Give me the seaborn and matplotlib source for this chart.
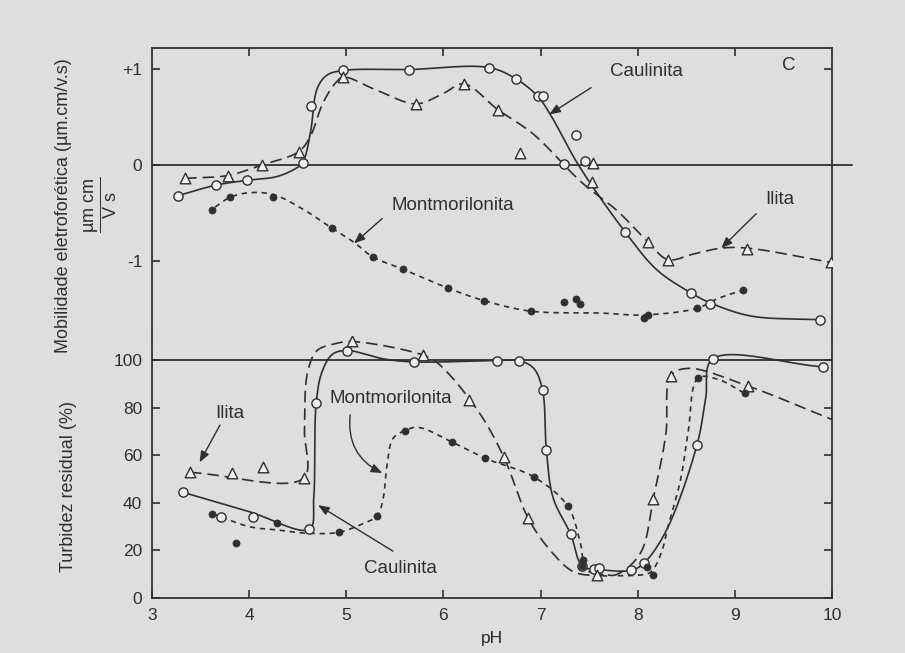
import numpy as np
import matplotlib
matplotlib.use("Agg")
import matplotlib.pyplot as plt
import seaborn as sns

# ---------------- data ----------------
# top panel: electrophoretic mobility (um.cm/V.s) vs pH  -- measured points
caul_mob_ph = [3.27, 3.66, 3.98, 4.55, 4.64, 4.97, 5.65, 6.47, 6.75, 6.97, 7.03, 7.24, 7.36, 7.46, 7.87, 8.55, 8.74, 9.88]
caul_mob = [-0.32, -0.21, -0.16, 0.02, 0.62, 0.99, 0.99, 1.02, 0.90, 0.72, 0.72, 0.01, 0.31, 0.04, -0.70, -1.34, -1.46, -1.62]
ilit_mob_ph = [3.34, 3.78, 4.13, 4.51, 4.97, 5.72, 6.21, 6.56, 6.79, 7.54, 7.53, 8.11, 8.31, 9.13, 9.99]
ilit_mob = [-0.14, -0.11, 0.0, 0.14, 0.92, 0.64, 0.85, 0.58, 0.13, 0.02, -0.18, -0.81, -0.99, -0.88, -1.02]
mont_mob_ph = [3.62, 3.80, 4.25, 4.85, 5.27, 5.58, 6.05, 6.42, 6.90, 7.24, 7.36, 7.41, 8.06, 8.11, 8.61, 9.08]
mont_mob = [-0.47, -0.34, -0.33, -0.66, -0.96, -1.09, -1.29, -1.42, -1.53, -1.43, -1.40, -1.46, -1.60, -1.57, -1.50, -1.31]

# top panel: hand-drawn curve traces (nodes)
caul_mob_curve_ph = [3.27, 3.66, 3.98, 4.29, 4.49, 4.55, 4.63, 4.70, 4.80, 4.97, 5.65, 6.47, 6.75, 6.97, 7.10, 7.39, 7.87, 8.20, 8.55, 8.74, 9.16, 9.88]
caul_mob_curve = [-0.32, -0.21, -0.16, -0.12, -0.03, 0.02, 0.33, 0.80, 0.94, 0.99, 1.00, 1.02, 0.90, 0.72, 0.53, 0.0, -0.70, -1.10, -1.34, -1.44, -1.58, -1.62]
ilit_mob_curve_ph = [3.34, 3.78, 4.13, 4.51, 4.63, 4.76, 4.89, 4.97, 5.32, 5.72, 6.00, 6.21, 6.56, 6.93, 7.41, 7.79, 8.11, 8.31, 8.58, 8.86, 9.13, 9.99]
ilit_mob_curve = [-0.14, -0.11, 0.0, 0.14, 0.30, 0.65, 0.86, 0.92, 0.78, 0.64, 0.75, 0.85, 0.58, 0.32, -0.17, -0.48, -0.81, -0.99, -0.93, -0.87, -0.87, -1.02]
mont_mob_curve_ph = [3.65, 3.80, 4.00, 4.25, 4.55, 4.85, 5.08, 5.27, 5.58, 6.05, 6.42, 6.90, 7.62, 8.06, 8.61, 8.82, 9.08]
mont_mob_curve = [-0.44, -0.34, -0.29, -0.31, -0.46, -0.66, -0.81, -0.96, -1.09, -1.29, -1.42, -1.53, -1.55, -1.57, -1.50, -1.40, -1.31]

# bottom panel: residual turbidity (%) vs pH -- measured points
caul_tur_ph = [3.32, 3.71, 4.04, 4.62, 4.69, 5.01, 5.70, 6.55, 6.78, 7.02, 7.06, 7.31, 7.43, 7.55, 7.60, 7.93, 8.06, 8.61, 8.77, 9.91]
caul_tur = [44.4, 34.2, 34.2, 28.9, 81.8, 104.0, 99.2, 99.8, 99.7, 87.4, 62.2, 26.8, 13.4, 12.1, 12.5, 11.6, 14.5, 64.3, 100.4, 97.1]
ilit_tur_ph = [3.39, 3.82, 4.14, 4.56, 5.06, 5.79, 6.26, 6.62, 6.87, 7.58, 8.16, 8.34, 9.14]
ilit_tur = [52.8, 52.7, 55.1, 50.4, 107.8, 102.1, 83.1, 59.4, 33.7, 9.5, 41.7, 93.4, 88.9]
mont_tur_ph = [3.62, 3.86, 4.29, 4.92, 5.32, 5.60, 6.09, 6.43, 6.93, 7.28, 7.44, 7.43, 8.10, 8.16, 8.62, 9.10]
mont_tur = [35.5, 23.3, 31.6, 27.6, 34.6, 70.3, 65.5, 58.7, 50.9, 38.6, 15.9, 13.4, 13.2, 9.8, 92.4, 86.0]

# bottom panel: hand-drawn curve traces
caul_tur_curve_ph = [3.32, 4.00, 4.62, 4.665, 4.69, 4.75, 4.86, 5.01, 5.38, 5.70, 6.55, 6.78, 6.93, 7.02, 7.06, 7.13, 7.31, 7.43, 7.60, 7.93, 8.06, 8.29, 8.61, 8.70, 8.77, 9.91]
caul_tur_curve = [44.4, 36.3, 28.9, 42.0, 81.8, 95.0, 102.5, 104.0, 100.5, 99.2, 99.8, 99.7, 96.5, 87.4, 62.0, 42.0, 26.8, 13.4, 12.0, 11.6, 14.5, 28.0, 64.3, 84.0, 100.4, 97.1]
ilit_tur_curve_ph = [3.39, 4.56, 4.57, 4.60, 4.70, 4.90, 5.06, 5.79, 5.95, 6.35, 6.62, 6.87, 7.10, 7.34, 7.58, 7.79, 8.03, 8.16, 8.29, 8.34, 8.52, 9.14, 10.0]
ilit_tur_curve = [52.8, 50.4, 70.0, 94.5, 104.0, 107.0, 107.8, 102.1, 98.4, 79.0, 59.4, 33.7, 20.0, 11.0, 9.5, 10.0, 19.0, 41.7, 69.0, 93.4, 96.5, 89.0, 75.0]
mont_tur_curve_ph = [3.62, 4.00, 4.29, 4.60, 4.92, 5.18, 5.32, 5.38, 5.42, 5.48, 5.60, 5.74, 6.09, 6.43, 6.93, 7.28, 7.41, 7.47, 7.62, 7.96, 8.13, 8.24, 8.31, 8.44, 8.52, 8.62, 8.82, 9.10]
mont_tur_curve = [35.5, 30.0, 28.6, 27.2, 27.6, 31.4, 34.6, 42.0, 56.0, 67.0, 70.3, 71.7, 65.5, 58.7, 50.9, 38.6, 23.0, 12.0, 10.0, 9.5, 10.8, 18.7, 29.7, 49.5, 70.0, 92.4, 92.0, 86.0]

x_ticks = [3, 4, 5, 6, 7, 8, 9, 10]
mob_ticks = [-1, 0, 1]
mob_tick_labels = ["-1", "0", "+1"]
tur_ticks = [0, 20, 40, 60, 80, 100]

# ---------------- style ----------------
INK = "#2f2f2f"
BG = "#dedede"
OPEN = "#eeeeee"
FONT = ["Liberation Sans", "DejaVu Sans"]

sns.set_theme(style="white")
plt.rcParams["font.family"] = FONT
plt.rcParams["mathtext.fontset"] = "custom"
plt.rcParams["mathtext.rm"] = "Liberation Sans"
plt.rcParams["mathtext.it"] = "Liberation Sans"
plt.rcParams["text.color"] = INK
plt.rcParams["axes.edgecolor"] = INK
plt.rcParams["xtick.color"] = INK
plt.rcParams["ytick.color"] = INK


def smooth(xs, ys, sx, sy, n=24):
    """Centripetal Catmull-Rom through the traced nodes (display-like scaling)."""
    P = np.column_stack([np.asarray(xs, float) * sx, np.asarray(ys, float) * sy])
    P = np.vstack([2 * P[0] - P[1], P, 2 * P[-1] - P[-2]])
    out = []
    for i in range(1, len(P) - 2):
        p0, p1, p2, p3 = P[i - 1], P[i], P[i + 1], P[i + 2]
        t0 = 0.0
        t1 = t0 + max(np.linalg.norm(p1 - p0), 1e-6) ** 0.5
        t2 = t1 + max(np.linalg.norm(p2 - p1), 1e-6) ** 0.5
        t3 = t2 + max(np.linalg.norm(p3 - p2), 1e-6) ** 0.5
        t = np.linspace(t1, t2, n, endpoint=False)[:, None]
        a1 = (t1 - t) / (t1 - t0) * p0 + (t - t0) / (t1 - t0) * p1
        a2 = (t2 - t) / (t2 - t1) * p1 + (t - t1) / (t2 - t1) * p2
        a3 = (t3 - t) / (t3 - t2) * p2 + (t - t2) / (t3 - t2) * p3
        b1 = (t2 - t) / (t2 - t0) * a1 + (t - t0) / (t2 - t0) * a2
        b2 = (t3 - t) / (t3 - t1) * a2 + (t - t1) / (t3 - t1) * a3
        c = (t2 - t) / (t2 - t1) * b1 + (t - t1) / (t2 - t1) * b2
        out.append(c)
    out.append(P[-2][None, :])
    C = np.vstack(out)
    return C[:, 0] / sx, C[:, 1] / sy


def draw_curve(ax, xs, ys, sy, ls):
    cx, cy = smooth(xs, ys, 97.0, sy)
    sns.lineplot(x=cx, y=cy, sort=False, estimator=None, ax=ax, color=INK,
                 lw=1.2, linestyle=ls, zorder=2)


def draw_points(ax, xs, ys, kind):
    if kind == "circle":
        sns.scatterplot(x=xs, y=ys, marker="o", s=44, color=OPEN, edgecolor=INK,
                        linewidth=1.0, ax=ax, zorder=4)
    elif kind == "triangle":
        sns.scatterplot(x=xs, y=ys, marker="^", s=58, color=OPEN, edgecolor=INK,
                        linewidth=1.0, ax=ax, zorder=4)
    else:
        sns.scatterplot(x=xs, y=ys, marker="o", s=26, color=INK, edgecolor=INK,
                        linewidth=0.5, ax=ax, zorder=4)


LONG = (0, (7, 3.5))
SHORT = (0, (3.2, 2.8))

W, H = 905, 653
fig = plt.figure(figsize=(W / 100, H / 100), dpi=100, facecolor=BG)
left, right = 152, 832
y_top, y_mid, y_bot = 48, 336, 598
ax_t = fig.add_axes([left / W, 1 - y_mid / H, (right - left) / W, (y_mid - y_top) / H])
ax_b = fig.add_axes([left / W, 1 - y_bot / H, (right - left) / W, (y_bot - y_mid) / H])
for ax in (ax_t, ax_b):
    ax.set_facecolor("none")
    ax.set_xlim(3, 10)
    for s in ax.spines.values():
        s.set_linewidth(1.3)
        s.set_color(INK)

ax_t.set_ylim(-1.79, 1.225)
ax_b.set_ylim(0, 110.1)
ax_t.spines["bottom"].set_visible(False)
ax_b.spines["top"].set_visible(False)

# reference lines
ax_t.axhline(0, xmin=0, xmax=1.03, color=INK, lw=1.3, clip_on=False, zorder=1)
ax_b.axhline(100, color=INK, lw=1.3, zorder=1)

# curves
draw_curve(ax_t, caul_mob_curve_ph, caul_mob_curve, 95.5, "-")
draw_curve(ax_t, ilit_mob_curve_ph, ilit_mob_curve, 95.5, LONG)
draw_curve(ax_t, mont_mob_curve_ph, mont_mob_curve, 95.5, SHORT)
draw_curve(ax_b, caul_tur_curve_ph, caul_tur_curve, 2.38, "-")
draw_curve(ax_b, ilit_tur_curve_ph, ilit_tur_curve, 2.38, LONG)
draw_curve(ax_b, mont_tur_curve_ph, mont_tur_curve, 2.38, SHORT)

# points
draw_points(ax_t, caul_mob_ph, caul_mob, "circle")
draw_points(ax_t, ilit_mob_ph, ilit_mob, "triangle")
draw_points(ax_t, mont_mob_ph, mont_mob, "dot")
draw_points(ax_b, caul_tur_ph, caul_tur, "circle")
draw_points(ax_b, ilit_tur_ph, ilit_tur, "triangle")
draw_points(ax_b, mont_tur_ph, mont_tur, "dot")

# ticks
ax_t.set_xticks(x_ticks[1:-1])
ax_t.tick_params(axis="x", which="both", bottom=False, top=True, labelbottom=False,
                 direction="in", length=6, width=1.2)
ax_t.set_yticks(mob_ticks)
ax_t.set_yticklabels(mob_tick_labels)
ax_t.tick_params(axis="y", left=True, right=False, direction="in", length=6, width=1.2,
                 labelsize=12.5, pad=7)
ax_b.set_xticks(x_ticks)
ax_b.tick_params(axis="x", bottom=True, top=False, direction="in", length=6, width=1.2,
                 labelsize=12.5, pad=7)
ax_b.set_yticks(tur_ticks)
ax_b.tick_params(axis="y", left=True, right=True, direction="in", length=6, width=1.2,
                 labelsize=12.5, pad=7)
for ax in (ax_t, ax_b):
    ax.set_xlabel("")
    ax.set_ylabel("")
sec = ax_t.secondary_yaxis("right")
sec.set_yticks([1], labels=[""])
sec.tick_params(direction="in", length=6, width=1.2)
sec.spines["right"].set_visible(False)

ax_b.set_xlabel("pH", fontsize=12.5, labelpad=6)

# axis titles
fig.text(64 / W, 1 - 206 / H, "Mobilidade eletroforética (µm.cm/v.s)", rotation=90,
         ha="center", va="center", fontsize=13)
fig.text(101 / W, 1 - 205 / H, r"$\dfrac{\mathrm{µm\ cm}}{\mathrm{V\ s}}$", rotation=90,
         ha="center", va="center", fontsize=13)
fig.text(68 / W, 1 - 486 / H, "Turbidez residual (%)", rotation=90,
         ha="center", va="center", fontsize=13)

# labels and arrows
ARW = dict(arrowstyle="-|>,head_length=0.55,head_width=0.22", color=INK, lw=1.0,
           shrinkA=0, shrinkB=0)
ax_t.text(9.55, 1.04, "C", fontsize=13.5, ha="center", va="center")
ax_t.text(8.09, 0.98, "Caulinita", fontsize=13.5, ha="center", va="center")
ax_t.annotate("", xy=(7.09, 0.53), xytext=(7.52, 0.81), arrowprops=ARW)
ax_t.text(9.46, -0.36, "Ilita", fontsize=13.5, ha="center", va="center")
ax_t.annotate("", xy=(8.86, -0.87), xytext=(9.22, -0.51), arrowprops=ARW)
ax_t.text(6.10, -0.42, "Montmorilonita", fontsize=13.5, ha="center", va="center")
ax_t.annotate("", xy=(5.08, -0.82), xytext=(5.37, -0.56), arrowprops=ARW)

ax_b.text(3.80, 77.7, "Ilita", fontsize=13.5, ha="center", va="center")
ax_b.annotate("", xy=(3.49, 57.0), xytext=(3.70, 72.7), arrowprops=ARW)
ax_b.text(5.46, 84.0, "Montmorilonita", fontsize=13.5, ha="center", va="center")
ax_b.annotate("", xy=(5.37, 52.5), xytext=(5.04, 77.0),
              arrowprops=dict(ARW, connectionstyle="arc3,rad=0.35"))
ax_b.text(5.56, 12.6, "Caulinita", fontsize=13.5, ha="center", va="center")
ax_b.annotate("", xy=(4.71, 39.0), xytext=(5.48, 19.7), arrowprops=ARW)

fig.savefig("out.png", dpi=100, facecolor=BG)
